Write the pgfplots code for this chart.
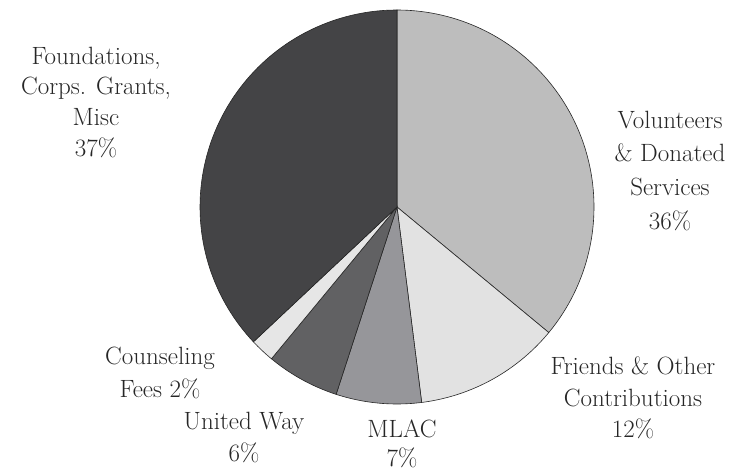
\documentclass[border=0pt]{standalone}
\usepackage{pgfplots}
\usepackage{pgfplotstable}
\pgfplotsset{compat=1.18}
\definecolor{cvol}{HTML}{BDBDBD}
\definecolor{cfri}{HTML}{E2E2E2}
\definecolor{cmla}{HTML}{96969A}
\definecolor{cuw}{HTML}{616163}
\definecolor{ccou}{HTML}{E6E6E6}
\definecolor{cfou}{HTML}{444446}
% shares in percent
\pgfplotstableread{
pct
36
12
7
6
2
37
}\piedata
\newcommand\getpct[2]{\pgfplotstablegetelem{#1}{pct}\of\piedata\let#2\pgfplotsretval}
\getpct{0}\pA \getpct{1}\pB \getpct{2}\pC \getpct{3}\pD \getpct{4}\pE \getpct{5}\pF
\pgfmathsetmacro\aA{90}
\pgfmathsetmacro\aB{\aA-3.6*\pA}
\pgfmathsetmacro\aC{\aB-3.6*\pB}
\pgfmathsetmacro\aD{\aC-3.6*\pC}
\pgfmathsetmacro\aE{\aD-3.6*\pD}
\pgfmathsetmacro\aF{\aE-3.6*\pE}
\pgfmathsetmacro\aG{\aF-3.6*\pF}
\def\cx{397}\def\cy{266}\def\rr{197}
\newcommand\lbl[3]{\node[anchor=base,inner sep=0pt,text=black!85,font=\rmfamily\fontsize{25}{31}\selectfont] at (axis cs:#1,473-#2) {#3};}
\begin{document}
\begin{tikzpicture}
\useasboundingbox (0,0) rectangle (738pt,473pt);
\begin{axis}[
  at={(0,0)}, anchor=south west,
  width=738pt, height=473pt, scale only axis,
  xmin=0, xmax=738, ymin=0, ymax=473,
  hide axis, clip=false,
]
\pgfplotsset{slice/.style={draw=black!85, line width=0.6pt, samples=90, variable=\t}}
\addplot[slice, fill=cvol, domain=\aB:\aA] ({\cx+\rr*cos(\t)},{\cy+\rr*sin(\t)}) -- (axis cs:\cx,\cy) -- cycle;
\addplot[slice, fill=cfri, domain=\aC:\aB] ({\cx+\rr*cos(\t)},{\cy+\rr*sin(\t)}) -- (axis cs:\cx,\cy) -- cycle;
\addplot[slice, fill=cmla, domain=\aD:\aC] ({\cx+\rr*cos(\t)},{\cy+\rr*sin(\t)}) -- (axis cs:\cx,\cy) -- cycle;
\addplot[slice, fill=cuw, domain=\aE:\aD] ({\cx+\rr*cos(\t)},{\cy+\rr*sin(\t)}) -- (axis cs:\cx,\cy) -- cycle;
\addplot[slice, fill=ccou, domain=\aF:\aE] ({\cx+\rr*cos(\t)},{\cy+\rr*sin(\t)}) -- (axis cs:\cx,\cy) -- cycle;
\addplot[slice, fill=cfou, domain=\aG:\aF] ({\cx+\rr*cos(\t)},{\cy+\rr*sin(\t)}) -- (axis cs:\cx,\cy) -- cycle;
\lbl{96}{65}{Foundations,}
\lbl{96}{95}{Corps. Grants,}
\lbl{96}{126}{Misc}
\lbl{96}{157}{37\%}
\lbl{670}{129}{Volunteers}
\lbl{670}{162}{\& Donated}
\lbl{670}{196}{Services}
\lbl{670}{230}{36\%}
\lbl{633}{375}{Friends \& Other}
\lbl{633}{407}{Contributions}
\lbl{633}{438}{12\%}
\lbl{160}{365}{Counseling}
\lbl{160}{398}{Fees 2\%}
\lbl{244}{430}{United Way}
\lbl{244}{462}{6\%}
\lbl{402}{438}{MLAC}
\lbl{402}{467}{7\%}
\end{axis}
\end{tikzpicture}
\end{document}
